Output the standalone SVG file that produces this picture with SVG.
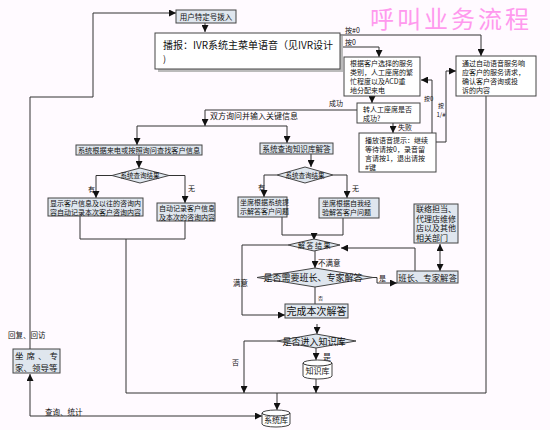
<svg xmlns="http://www.w3.org/2000/svg" width="550" height="430" viewBox="0 0 550 430">
<defs>
<marker id="a" markerWidth="7" markerHeight="7" refX="7" refY="3.5" orient="auto-start-reverse" markerUnits="userSpaceOnUse"><path d="M0,0 L7,3.5 L0,7 z" fill="#111"/></marker>
<style>
.b{fill:#dfe6ee;stroke:#444;stroke-width:1}
.w{fill:#fff;stroke:#444;stroke-width:1}
.l{fill:none;stroke:#333;stroke-width:1}
.t{font-family:"Noto Sans CJK SC","Noto Sans",sans-serif;fill:#111}
.m{text-anchor:middle}
</style>
</defs>
<rect width="550" height="430" fill="#fffaff"/>
<text x="370" y="28" class="t" style="font-size:24px;fill:#ff99ee;letter-spacing:3px">呼叫业务流程</text>

<g id="connectors" class="l">
<path d="M30,349 V97 H93 V13 H176" marker-end="url(#a)"/>
<path d="M205,23 V32" marker-end="url(#a)"/>
<path d="M340,35 H481 V56" marker-end="url(#a)"/>
<path d="M340,47 H379 V57" marker-end="url(#a)"/>
<path d="M372,96 V103" marker-end="url(#a)"/>
<path d="M357,110 H205 V126" marker-end="url(#a)"/>
<path d="M137,126 H287"/>
<path d="M137,126 V145" marker-end="url(#a)"/>
<path d="M287,126 V143" marker-end="url(#a)"/>
<path d="M393,123 V133" marker-end="url(#a)"/>
<path d="M432,133 V80 H421" marker-end="url(#a)"/>
<path d="M436,142 H446 V71 H456" marker-end="url(#a)"/>
<path d="M139,155 V168" marker-end="url(#a)"/>
<path d="M112,175.5 H96 V198" marker-end="url(#a)"/>
<path d="M169,175.5 H185 V203" marker-end="url(#a)"/>
<path d="M80,216 V239 H185 V221"/>
<path d="M126,239 V393 H486 V96"/>
<path d="M311,154 V167" marker-end="url(#a)"/>
<path d="M277,175 H264 V197" marker-end="url(#a)"/>
<path d="M333,175 H347 V198" marker-end="url(#a)"/>
<path d="M282,217 V235 H343 V218"/>
<path d="M314,235 V240" marker-end="url(#a)"/>
<path d="M288,245 H242 V315 H285" marker-end="url(#a)"/>
<path d="M315,251 V268" marker-end="url(#a)"/>
<path d="M373,277.5 H377 V283 H397" marker-end="url(#a)"/>
<path d="M415,271 V248 H341" marker-end="url(#a)"/>
<path d="M440,244 V271" marker-start="url(#a)" marker-end="url(#a)"/>
<path d="M315,287 V304"/>
<path d="M317,324 V334" marker-end="url(#a)"/>
<path d="M277,341 H244 V393" marker-end="url(#a)"/>
<path d="M316,348 V360" marker-end="url(#a)"/>
<path d="M316,379 V393" marker-end="url(#a)"/>
<path d="M277,393 V410" marker-end="url(#a)"/>
<path d="M262,416 H30 V374" marker-start="url(#a)" marker-end="url(#a)"/>
</g>

<g id="labels" class="t" style="font-size:7px">
<text x="345" y="33">按#0</text>
<text x="345" y="45">按0</text>
<text x="329" y="106">成功</text>
<text x="398" y="130">失败</text>
<text x="424" y="101" style="font-size:6px">按0</text>
<text x="441" y="108" class="m" style="font-size:6px">按</text>
<text x="441" y="117" class="m" style="font-size:6px">1/#</text>
<text x="210" y="119" style="font-size:8px">双方询问并输入关键信息</text>
<text x="88" y="192">有</text>
<text x="188" y="191">无</text>
<text x="258" y="190">有</text>
<text x="352" y="191">无</text>
<text x="233" y="286" style="font-size:7.5px">满意</text>
<text x="318" y="266" style="font-size:7.5px">不满意</text>
<text x="379" y="281">是</text>
<text x="318" y="300" style="font-size:5px">否</text>
<text x="232" y="365">否</text>
<text x="323" y="360" style="font-size:8px">是</text>
<text x="8" y="338" style="font-size:7.5px">回复、回访</text>
<text x="45" y="415" style="font-size:7.5px">查询、统计</text>
</g>

<g id="n-dial"><rect x="176" y="10" width="60" height="13" class="b"/><text x="206" y="19.5" class="t m" style="font-size:7.5px">用户特定号拨入</text></g>
<g id="n-ivr"><rect x="158" y="36" width="185" height="36" fill="#bbb"/><rect x="155" y="33" width="185" height="36" class="w"/><text x="163" y="49" class="t" style="font-size:10px">播报：IVR系统主菜单语音（见IVR设计</text><text x="163" y="62" class="t" style="font-size:9px">)</text></g>
<g id="n-acd"><rect x="344" y="57" width="76" height="39" class="w"/><text class="t" style="font-size:7px"><tspan x="350" y="66">根据客户选择的服务</tspan><tspan x="350" y="75">类别，人工座席的繁</tspan><tspan x="350" y="84">忙程度以及ACD重</tspan><tspan x="350" y="93">地分配来电</tspan></text></g>
<g id="n-transfer"><rect x="357" y="103" width="63" height="20" class="w"/><text class="t" style="font-size:7px"><tspan x="363" y="112">转人工座席是否</tspan><tspan x="363" y="121">成功?</tspan></text></g>
<g id="n-play"><rect x="359" y="133" width="77" height="39" class="w"/><text class="t" style="font-size:7px"><tspan x="365" y="143">播放语音提示：继续</tspan><tspan x="365" y="152">等待请按0，录音留</tspan><tspan x="365" y="161">言请按1，退出请按</tspan><tspan x="365" y="170">#键</tspan></text></g>
<g id="n-auto"><rect x="456" y="56" width="80" height="40" class="w"/><text class="t" style="font-size:7px"><tspan x="462" y="66">通过自动语音服务响</tspan><tspan x="462" y="75">应客户的服务请求，</tspan><tspan x="462" y="84">确认客户咨询或投</tspan><tspan x="462" y="93">诉的内容</tspan></text></g>
<g id="n-find"><rect x="76" y="145" width="126" height="10" class="b"/><text x="139" y="153" class="t m" style="font-size:7.2px">系统根据来电或按照询问查找客户信息</text></g>
<g id="n-res1"><polygon points="112,175.5 140,168 169,175.5 140,183" class="b"/><text x="140" y="178" class="t m" style="font-size:6.5px">系统查询结果</text></g>
<g id="n-show"><rect x="48" y="198" width="95" height="18" class="b"/><text class="t" style="font-size:7px"><tspan x="50" y="206">显示客户信息及以往的咨询内</tspan><tspan x="50" y="214.5">容自动记录本次客户咨询内容</tspan></text></g>
<g id="n-rec"><rect x="157" y="203" width="58" height="18" class="b"/><text class="t" style="font-size:7px"><tspan x="159" y="211">自动记录客户信息</tspan><tspan x="159" y="219.5">及本次的咨询内容</tspan></text></g>
<g id="n-kbq"><rect x="260" y="143" width="73" height="11" class="b"/><text x="296.5" y="151.5" class="t m" style="font-size:7.6px">系统查询知识库解答</text></g>
<g id="n-res2"><polygon points="277,175 305,167 333,175 305,183" class="b"/><text x="305" y="177.5" class="t m" style="font-size:6.5px">系统查询结果</text></g>
<g id="n-sys"><rect x="238" y="197" width="49" height="20" class="b"/><text class="t" style="font-size:7px"><tspan x="240" y="205">坐席根据系统提</tspan><tspan x="240" y="214">示解答客户问题</tspan></text></g>
<g id="n-exp"><rect x="319" y="198" width="60" height="20" class="b"/><text class="t" style="font-size:7px"><tspan x="322" y="206">坐席根据自我经</tspan><tspan x="322" y="215">验解答客户问题</tspan></text></g>
<g id="n-ans"><polygon points="288,245 314,239 340,245 314,251" class="b"/><text x="315" y="248" class="t m" style="font-size:7px;letter-spacing:1.5px">解答结果</text></g>
<g id="n-need"><polygon points="257,277.5 315,268 373,277.5 315,287" class="b"/><text x="313" y="281" class="t m" style="font-size:9px">是否需要班长、专家解答</text></g>
<g id="n-lead"><rect x="397" y="271" width="61" height="12" class="b"/><text x="427.5" y="280.5" class="t m" style="font-size:8.4px">班长、专家解答</text></g>
<g id="n-contact"><rect x="414" y="204" width="44" height="39" class="b"/><text class="t" style="font-size:8px"><tspan x="416" y="212">联络担当、</tspan><tspan x="416" y="221.5">代理店维修</tspan><tspan x="416" y="231">店以及其他</tspan><tspan x="416" y="240.5">相关部门</tspan></text></g>
<g id="n-done"><rect x="285" y="304" width="63" height="14" class="b"/><text x="316.5" y="315" class="t m" style="font-size:10px">完成本次解答</text></g>
<g id="n-kbq2"><polygon points="277,341 316,334 356,341 316,348" class="b"/><text x="314" y="344.5" class="t m" style="font-size:9px">是否进入知识库</text></g>
<g id="n-kb"><path d="M303,363 A14.5,3 0 0 1 332,363 V376 A14.5,3 0 0 1 303,376 Z" class="w"/><path d="M303,363 A14.5,3 0 0 0 332,363" class="l"/><text x="317.5" y="374" class="t m" style="font-size:8px">知识库</text></g>
<g id="n-db"><path d="M262,413 A14,3 0 0 1 290,413 V424 A14,3 0 0 1 262,424 Z" class="w"/><path d="M262,413 A14,3 0 0 0 290,413" class="l"/><text x="276" y="423" class="t m" style="font-size:8px">系统库</text></g>
<g id="n-staff"><rect x="13" y="349" width="47" height="24" class="b"/><text class="t" style="font-size:8.5px"><tspan x="15" y="358.5" style="letter-spacing:3px">坐席、专</tspan><tspan x="15" y="370.5">家、领导等</tspan></text></g>
</svg>
